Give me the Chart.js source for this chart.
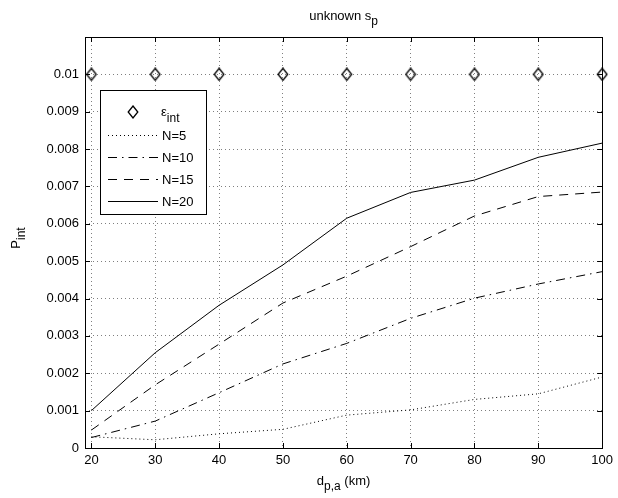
<!DOCTYPE html>
<html>
<head>
<meta charset="utf-8">
<script src="https://cdn.jsdelivr.net/npm/chart.js@4.4.0/dist/chart.umd.min.js"></script>
<style>
  html, body { margin: 0; padding: 0; background: #fff; }
</style>
</head>
<body>
<canvas id="chart" width="618" height="498"></canvas>
<script>
// values
const distances = [20, 30, 40, 50, 60, 70, 80, 90, 100];
const epsInt = [0.01, 0.01, 0.01, 0.01, 0.01, 0.01, 0.01, 0.01, 0.01];
const pN5 = [0.0003, 0.00022, 0.00038, 0.0005, 0.00088, 0.00102, 0.0013, 0.00145, 0.0019];
const pN10 = [0.00028, 0.00072, 0.00148, 0.00225, 0.0028, 0.00347, 0.00401, 0.00439, 0.00472];
const pN15 = [0.00048, 0.00169, 0.00278, 0.00388, 0.0046, 0.00539, 0.00621, 0.00673, 0.00685];
const pN20 = [0.001, 0.00255, 0.00382, 0.0049, 0.00615, 0.00684, 0.00717, 0.00778, 0.00816];
const seriesLabels = ["N=5", "N=10", "N=15", "N=20"];
const xTicks = [20, 30, 40, 50, 60, 70, 80, 90, 100];
const yTicks = [0, 0.001, 0.002, 0.003, 0.004, 0.005, 0.006, 0.007, 0.008, 0.009, 0.01];

const FONT = "Liberation Sans, Arial, Helvetica, sans-serif";

const toPoints = (ys) => distances.map((x, i) => ({ x: x, y: ys[i] }));

// open diamond marker, a bit taller than wide like matlab's
function makeDiamond() {
  const c = document.createElement("canvas");
  c.width = 12;
  c.height = 14;
  const g = c.getContext("2d");
  g.strokeStyle = "#000";
  g.lineWidth = 1.3;
  g.beginPath();
  g.moveTo(6, 1);
  g.lineTo(10.8, 7);
  g.lineTo(6, 13);
  g.lineTo(1.2, 7);
  g.closePath();
  g.stroke();
  return c;
}
const diamond = makeDiamond();

// draws text pieces, some of them shifted down as subscripts
function drawRich(ctx, parts, x, y, align) {
  let w = 0;
  parts.forEach((p) => {
    ctx.font = p.size + "px " + FONT;
    p.w = ctx.measureText(p.t).width;
    w += p.w;
  });
  let cx = align === "center" ? x - w / 2 : x;
  ctx.textAlign = "left";
  ctx.textBaseline = "alphabetic";
  parts.forEach((p) => {
    ctx.font = p.size + "px " + FONT;
    ctx.fillText(p.t, cx, y + (p.dy || 0));
    cx += p.w;
  });
}

const framePlugin = {
  id: "frame",
  afterDatasetsDraw(chart) {
    const ctx = chart.ctx;
    // legend box inside the plot
    ctx.save();
    ctx.fillStyle = "#fff";
    ctx.fillRect(100.5, 90.5, 106, 124);
    ctx.strokeStyle = "#000";
    ctx.lineWidth = 1;
    ctx.strokeRect(100.5, 90.5, 106, 124);
    ctx.fillStyle = "#000";

    ctx.drawImage(diamond, 133 - 6, 112 - 7);
    drawRich(ctx, [{ t: "\u03b5", size: 13 }, { t: "int", size: 12, dy: 6 }], 161, 116, "left");

    const rows = [135, 157, 179, 201];
    chart.data.datasets.slice(1).forEach((ds, i) => {
      const y = rows[i] + 0.5;
      ctx.beginPath();
      ctx.setLineDash(ds.borderDash || []);
      ctx.moveTo(108, y);
      ctx.lineTo(158, y);
      ctx.stroke();
      ctx.setLineDash([]);
      ctx.font = "13px " + FONT;
      ctx.textAlign = "left";
      ctx.textBaseline = "middle";
      ctx.fillText(ds.label, 162, rows[i] + 1);
    });
    ctx.restore();
  },
  afterDraw(chart) {
    const ctx = chart.ctx;
    const a = chart.chartArea;
    const xs = chart.scales.x;
    const ys = chart.scales.y;
    ctx.save();
    ctx.strokeStyle = "#000";
    ctx.lineWidth = 1;
    ctx.strokeRect(Math.round(a.left) + 0.5, Math.round(a.top) + 0.5,
      Math.round(a.right - a.left), Math.round(a.bottom - a.top));

    // inward tick marks on all four sides
    ctx.beginPath();
    xTicks.forEach((v) => {
      const px = Math.round(xs.getPixelForValue(v)) + 0.5;
      ctx.moveTo(px, a.bottom);
      ctx.lineTo(px, a.bottom - 5);
      ctx.moveTo(px, a.top);
      ctx.lineTo(px, a.top + 5);
    });
    yTicks.forEach((v) => {
      const py = Math.round(ys.getPixelForValue(v)) + 0.5;
      ctx.moveTo(a.left, py);
      ctx.lineTo(a.left + 5, py);
      ctx.moveTo(a.right, py);
      ctx.lineTo(a.right - 5, py);
    });
    ctx.stroke();

    ctx.fillStyle = "#000";
    const mid = (a.left + a.right) / 2;
    drawRich(ctx, [{ t: "unknown s", size: 13 }, { t: "p", size: 12, dy: 5 }], mid, 20, "center");
    drawRich(ctx, [{ t: "d", size: 13 }, { t: "p,a", size: 12, dy: 5 }, { t: " (km)", size: 13 }], mid, 485, "center");

    ctx.translate(20, 238);
    ctx.rotate(-Math.PI / 2);
    drawRich(ctx, [{ t: "P", size: 13 }, { t: "int", size: 12, dy: 5 }], 0, 0, "center");
    ctx.restore();
  },
};

const gridStyle = {
  color: "rgba(0,0,0,0.5)",
  lineWidth: 1,
  drawTicks: false,
};

new Chart(document.getElementById("chart"), {
  type: "line",
  data: {
    datasets: [
      {
        label: "\u03b5int",
        data: toPoints(epsInt),
        showLine: false,
        pointStyle: diamond,
        clip: false,
      },
      {
        label: seriesLabels[0],
        data: toPoints(pN5),
        borderColor: "#000",
        borderWidth: 1,
        borderDash: [1, 3],
        pointRadius: 0,
      },
      {
        label: seriesLabels[1],
        data: toPoints(pN10),
        borderColor: "#000",
        borderWidth: 1,
        borderDash: [9, 5, 1.5, 5],
        pointRadius: 0,
      },
      {
        label: seriesLabels[2],
        data: toPoints(pN15),
        borderColor: "#000",
        borderWidth: 1,
        borderDash: [9, 7],
        pointRadius: 0,
      },
      {
        label: seriesLabels[3],
        data: toPoints(pN20),
        borderColor: "#000",
        borderWidth: 1,
        pointRadius: 0,
      },
    ],
  },
  options: {
    responsive: false,
    animation: false,
    devicePixelRatio: 1,
    layout: { padding: { top: 37, right: 14, left: 0, bottom: 0 } },
    plugins: {
      legend: { display: false },
      title: { display: false },
      tooltip: { enabled: false },
    },
    scales: {
      x: {
        type: "linear",
        min: 19,
        max: 100,
        afterBuildTicks: (s) => { s.ticks = xTicks.map((v) => ({ value: v })); },
        afterFit: (s) => { s.height = 50; },
        ticks: { color: "#000", font: { family: FONT, size: 13 }, padding: 5, maxRotation: 0, autoSkip: false },
        grid: gridStyle,
        border: { display: false, dash: [1, 3] },
      },
      y: {
        min: 0,
        max: 0.011,
        afterBuildTicks: (s) => { s.ticks = yTicks.map((v) => ({ value: v })); },
        afterFit: (s) => { s.width = 85; },
        ticks: {
          color: "#000",
          font: { family: FONT, size: 13 },
          padding: 6,
          autoSkip: false,
          callback: (v) => (v === 0 ? "0" : String(+v.toFixed(3))),
        },
        grid: gridStyle,
        border: { display: false, dash: [1, 3] },
      },
    },
  },
  plugins: [framePlugin],
});
</script>
</body>
</html>
